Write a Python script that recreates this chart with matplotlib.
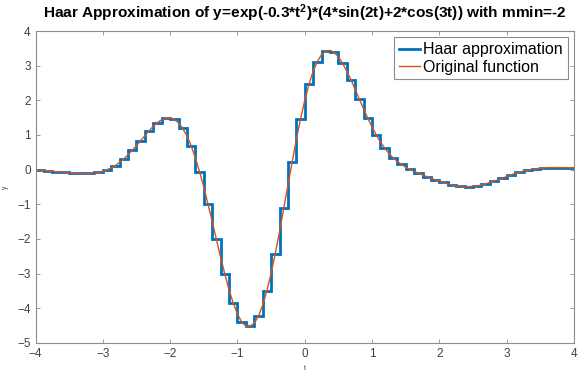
import numpy as np
import matplotlib
matplotlib.use('Agg')
import matplotlib.pyplot as plt

# Haar step values (64 intervals of width 1/8 on [-4, 4])
haar_edges = np.linspace(-4, 4, 65)
haar_vals = [
    -0.02, -0.04, -0.06, -0.08, -0.10, -0.11, -0.11, -0.08,
    0.00, 0.12, 0.31, 0.56, 0.84, 1.12, 1.36, 1.49,
    1.45, 1.19, 0.69, -0.06, -0.99, -2.01, -3.01, -3.85,
    -4.39, -4.52, -4.22, -3.49, -2.42, -1.12, 0.22, 1.46,
    2.46, 3.12, 3.42, 3.38, 3.07, 2.59, 2.03, 1.48,
    1.00, 0.62, 0.34, 0.15, 0.01, -0.10, -0.20, -0.29,
    -0.37, -0.44, -0.48, -0.49, -0.47, -0.41, -0.33, -0.24,
    -0.15, -0.08, -0.02, 0.03, 0.05, 0.06, 0.06, 0.05,
]

# original function sampled every 1/16
curve_t = np.linspace(-4, 4, 129)
curve_y = [
    -0.02, -0.02, -0.03, -0.04, -0.05, -0.06, -0.07, -0.08,
    -0.09, -0.10, -0.11, -0.11, -0.12, -0.11, -0.10, -0.08,
    -0.05, 0.00, 0.05, 0.12, 0.21, 0.31, 0.43, 0.56,
    0.69, 0.84, 0.98, 1.12, 1.25, 1.36, 1.44, 1.49,
    1.49, 1.45, 1.35, 1.19, 0.97, 0.69, 0.34, -0.06,
    -0.50, -0.99, -1.49, -2.01, -2.53, -3.01, -3.46, -3.85,
    -4.16, -4.39, -4.51, -4.52, -4.43, -4.22, -3.91, -3.49,
    -2.99, -2.42, -1.79, -1.12, -0.45, 0.22, 0.87, 1.46,
    2.00, 2.46, 2.84, 3.12, 3.32, 3.42, 3.44, 3.38,
    3.25, 3.07, 2.84, 2.59, 2.31, 2.03, 1.75, 1.48,
    1.23, 1.00, 0.80, 0.62, 0.47, 0.34, 0.24, 0.15,
    0.07, 0.01, -0.05, -0.10, -0.15, -0.20, -0.25, -0.29,
    -0.33, -0.37, -0.41, -0.44, -0.47, -0.48, -0.49, -0.49,
    -0.48, -0.47, -0.44, -0.41, -0.37, -0.33, -0.29, -0.24,
    -0.20, -0.15, -0.11, -0.08, -0.04, -0.02, 0.01, 0.03,
    0.04, 0.05, 0.06, 0.06, 0.06, 0.06, 0.06, 0.05,
    0.05,
]

xticks = [-4, -3, -2, -1, 0, 1, 2, 3, 4]
yticks = [-5, -4, -3, -2, -1, 0, 1, 2, 3, 4]
title = 'Haar Approximation of y=exp(-0.3*t$^{2}$)*(4*sin(2t)+2*cos(3t)) with mmin=-2'

plt.rcParams['font.family'] = ['Liberation Sans', 'DejaVu Sans']
plt.rcParams['mathtext.fontset'] = 'custom'
plt.rcParams['mathtext.rm'] = 'Liberation Sans:bold'
plt.rcParams['mathtext.default'] = 'rm'

fig = plt.figure(figsize=(5.78, 3.72), dpi=100)
ax = fig.add_axes([35.5 / 578, 1 - 343 / 372, (574 - 35.5) / 578, (343 - 31) / 372])

ax.stairs(haar_vals, haar_edges, color='#0072BD', lw=2, label='Haar approximation')
ax.plot(curve_t, curve_y, color='#D95319', lw=1, label='Original function')

ax.set_xlim(-4, 4)
ax.set_ylim(-5, 4)
ax.set_xticks(xticks)
ax.set_yticks(yticks)
ax.tick_params(direction='in', length=3, width=0.6, colors='#8c8c8c',
               labelcolor='#404040', labelsize=8.5, top=True, right=True)
for s in ax.spines.values():
    s.set_color('#8c8c8c')
    s.set_linewidth(0.8)

ax.set_xlabel('t', fontsize=5, color='#404040', labelpad=4)
ax.set_ylabel('y', fontsize=5, color='#404040', labelpad=6)

fig.text(43 / 578, 1 - 18 / 372, title, fontsize=11.1, fontweight='bold', ha='left', va='baseline')

leg = ax.legend(loc='upper right', fontsize=11.5, frameon=True, fancybox=False,
                framealpha=1, edgecolor='#8c8c8c', borderaxespad=0.4,
                handlelength=1.3, handletextpad=0.2, borderpad=0.3, labelspacing=0.15)
leg.get_frame().set_linewidth(0.8)

fig.savefig('out.png', dpi=100)
